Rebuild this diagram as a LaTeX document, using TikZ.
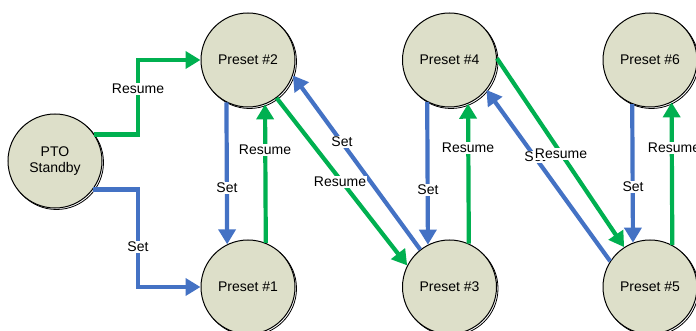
\documentclass[tikz,border=0pt]{standalone}
\usepackage{fontspec}
\setmainfont{Liberation Sans}
\usetikzlibrary{arrows.meta}
\definecolor{setblue}{HTML}{4472C4}
\definecolor{resgreen}{HTML}{00B050}
\definecolor{statefill}{HTML}{DDDFC9}
\tikzset{
  stateshadow/.style={circle, minimum size=94pt, inner sep=0pt, draw=black, line width=0.8pt},
  statenode/.style={circle, minimum size=94pt, inner sep=0pt, draw=black, line width=1pt, fill=statefill,
    font=\fontsize{14}{16}\selectfont, align=center},
  setarrow/.style={draw=setblue, line width=4.2pt, -{Triangle[length=15pt,width=17pt]}},
  resarrow/.style={draw=resgreen, line width=4.2pt, -{Triangle[length=15pt,width=17pt]}},
  lbl/.style={fill=white, inner sep=1.2pt, font=\fontsize{14}{16}\selectfont}
}
\begin{document}
\begin{tikzpicture}[x=1pt,y=-1pt]
\useasboundingbox (0,0) rectangle (696,331);
\clip (0,0) rectangle (696,331);
% shadows
\node[stateshadow] (ptos) at (56.5,162.5) {};
\node[stateshadow] (p2s) at (249.5,61.5) {};
\node[stateshadow] (p1s) at (249.5,288.5) {};
\node[stateshadow] (p4s) at (451,61.5) {};
\node[stateshadow] (p3s) at (451,288.5) {};
\node[stateshadow] (p6s) at (651.5,61.5) {};
\node[stateshadow] (p5s) at (651.5,288.5) {};
% states
\node[statenode] (pto) at (55,161) {PTO\\Standby};
\node[statenode] (p2) at (248,60) {Preset \#2};
\node[statenode] (p1) at (248,287) {Preset \#1};
\node[statenode] (p4) at (449.5,60) {Preset \#4};
\node[statenode] (p3) at (449.5,287) {Preset \#3};
\node[statenode] (p6) at (650,60) {Preset \#6};
\node[statenode] (p5) at (650,287) {Preset \#5};
% routing column
\coordinate (col) at (138,0);
% PTO connectors
\draw[resarrow] (pto.34) -- (pto.34 -| col) |- (p2.west);
\draw[setarrow] (pto.-37) -- (pto.-37 -| col) |- (p1.west);
% verticals
\draw[setarrow] (p2.243.4) -- (p1.116.6);
\draw[resarrow] (p1.68.8) -- (p2.291.2);
\draw[setarrow] (p4.242.8) -- (p3.117.2);
\draw[resarrow] (p3.66.8) -- (p4.293.2);
\draw[setarrow] (p6.248.8) -- (p5.111.2);
\draw[resarrow] (p5.62.1) -- (p6.297.9);
% diagonals
\draw[resarrow] (p2.307.7) -- (p3.153.7);
\draw[setarrow] (p3.128.9) -- (p2.341.2);
\draw[resarrow] (p4.2.6) -- (p5.123.7);
\draw[setarrow] (p5.147.7) -- (p4.321.7);
% labels
\node[lbl] (l1) at (138,89) {Resume};
\node[lbl] (l2) at (138,247) {Set};
\node[lbl] (l3) at (227,188) {Set};
\node[lbl] (l4) at (265,150) {Resume};
\node[lbl] (l5) at (342,142) {Set};
\node[lbl] (l6) at (340,182) {Resume};
\node[lbl] (l7) at (468,148) {Resume};
\node[lbl] (l8) at (428,190) {Set};
\node[lbl] (l9) at (535,157) {Set};
\node[lbl] (l10) at (561,154) {Resume};
\node[lbl] (l11) at (633,187) {Set};
\node[lbl] (l12) at (674,148) {Resume};
\end{tikzpicture}
\end{document}
